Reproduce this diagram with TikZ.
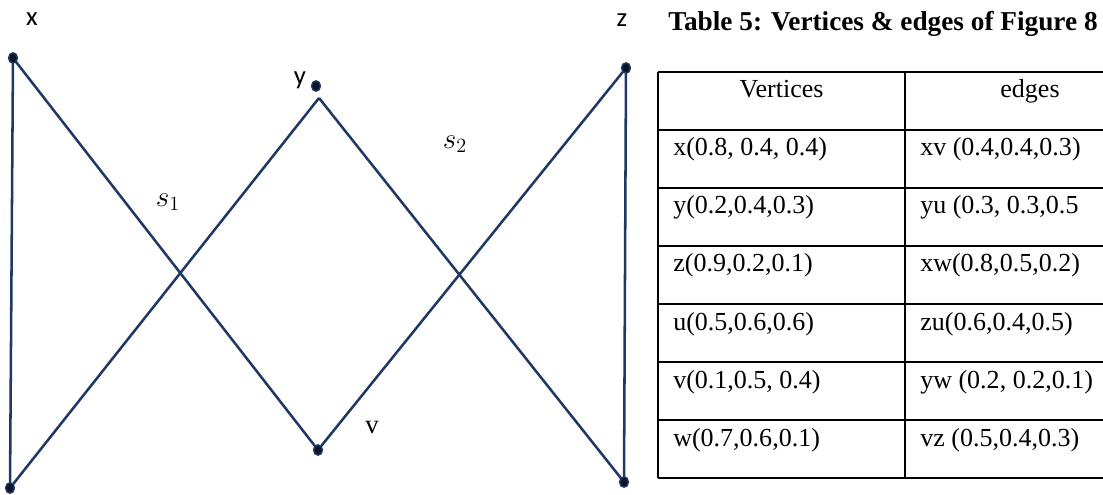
\documentclass[tikz,border=0pt]{standalone}
\usepackage{fontspec}
\setmainfont{Liberation Serif}
\newfontfamily\labelfont{Carlito}
\definecolor{edgeblue}{RGB}{32,56,100}
\definecolor{dotblue}{RGB}{10,22,40}
\tikzset{
  edge/.style={edgeblue,line width=1.8pt},
  vlabel/.style={font=\labelfont\fontsize{19}{22}\selectfont,inner sep=0pt},
  cell/.style={font=\fontsize{18.5}{22}\selectfont,inner sep=0pt},
  tabline/.style={black,line width=1.3pt}
}
\begin{document}
\begin{tikzpicture}
  \useasboundingbox (0,0) rectangle (27.575,12.35);
  % vertices of the graph
  \coordinate (x) at (0.325,10.9);
  \coordinate (w) at (0.25,0.15);
  \coordinate (v) at (7.95,1.1);
  \coordinate (y) at (7.975,9.9);
  \coordinate (u) at (15.6,0.3);
  \coordinate (z) at (15.65,10.65);
  \draw[edge] (x)--(w) (x)--(v) (w)--(y) (y)--(u) (v)--(z) (z)--(u);
  \coordinate (ydot) at (7.9,10.2);
  \foreach \p in {x,w,v,ydot,u,z} {
    \filldraw[fill=dotblue,draw=edgeblue,line width=1pt] (\p) ellipse (0.11 and 0.13);
  }
  \node[vlabel] (xl) at (0.8,11.875) {x};
  \node[vlabel] (yl) at (7.5,10.35) {y};
  \node[vlabel] (zl) at (15.55,11.85) {z};
  \node[font=\fontsize{19}{22}\selectfont,inner sep=0pt] (vl) at (9.3,1.675) {v};
  \node[font=\fontsize{22}{26}\selectfont,inner sep=0pt] (s1) at (4.2,7.3) {$s_1$};
  \node[font=\fontsize{22}{26}\selectfont,inner sep=0pt] (s2) at (11.375,8.75) {$s_2$};
  % table
  \node[font=\bfseries\fontsize{19.4}{22}\selectfont,inner sep=0pt] (caption) at (22.075,11.75) {Table 5: Vertices \& edges of Figure 8};
  \foreach \k in {0,...,7} {
    \draw[tabline] (16.45,{10.55-1.45*\k}) -- (27.6,{10.55-1.45*\k});
  }
  \draw[tabline] (16.45,10.55) -- (16.45,0.4) (22.625,10.55) -- (22.625,0.4);
  \node[cell,anchor=base] (vhead) at (19.54,9.9) {Vertices};
  \node[cell,anchor=base] (ehead) at (25.75,9.9) {edges};
  \foreach \i/\vt/\ed in {1/{x(0.8, 0.4, 0.4)}/{xv (0.4,0.4,0.3)},
                          2/{y(0.2,0.4,0.3)}/{yu (0.3, 0.3,0.5},
                          3/{z(0.9,0.2,0.1)}/{xw(0.8,0.5,0.2)},
                          4/{u(0.5,0.6,0.6)}/{zu(0.6,0.4,0.5)},
                          5/{v(0.1,0.5, 0.4)}/{yw (0.2, 0.2,0.1)},
                          6/{w(0.7,0.6,0.1)}/{vz (0.5,0.4,0.3)}} {
    \node[cell,anchor=base west] (vt\i) at (16.825,{9.9-1.45*\i}) {\vt};
    \node[cell,anchor=base west] (ed\i) at (23.0,{9.9-1.45*\i}) {\ed};
  }
\end{tikzpicture}
\end{document}
